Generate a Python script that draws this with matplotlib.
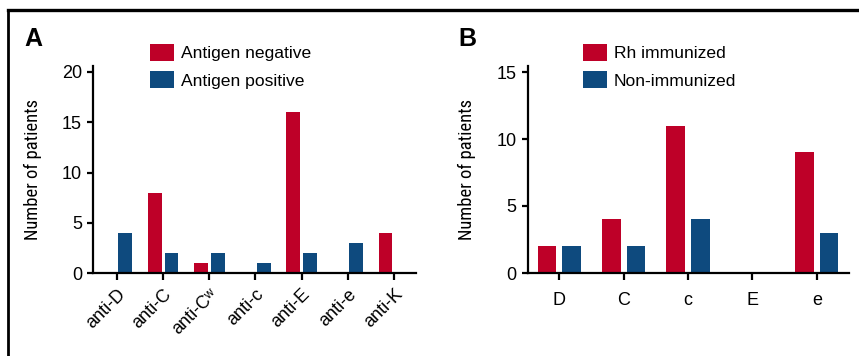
import matplotlib
matplotlib.use("Agg")
import matplotlib.pyplot as plt
import numpy as np
from matplotlib.lines import Line2D

# ---- data ----
a_categories = ["anti-D", "anti-C", "anti-C\u02b7", "anti-c", "anti-E", "anti-e", "anti-K"]
a_negative = [0, 8, 1, 0, 16, 0, 4]
a_positive = [4, 2, 2, 1, 2, 3, 0]
a_series = ["Antigen negative", "Antigen positive"]
a_yticks = [0, 5, 10, 15, 20]

b_categories = ["D", "C", "c", "E", "e"]
b_immunized = [2, 4, 11, 0, 9]
b_nonimmunized = [2, 2, 4, 0, 3]
b_series = ["Rh immunized", "Non-immunized"]
b_yticks = [0, 5, 10, 15]

RED = "#BE0028"
BLUE = "#0E4A7E"
FONT = ["Liberation Sans", "DejaVu Sans"]
NARROW = ["Liberation Sans Narrow", "Roboto Condensed", "Nimbus Sans Narrow",
          "Archivo Narrow", "Liberation Sans", "DejaVu Sans"]
plt.rcParams["font.family"] = FONT

W, H = 859, 356
fig = plt.figure(figsize=(W / 100, H / 100), dpi=100)


def fx(px):
    return px / W


def fy(py):
    return 1 - py / H


# border lines (top and left)
fig.add_artist(Line2D([fx(8), 1.0], [fy(10), fy(10)], color="black", lw=2.4))
fig.add_artist(Line2D([fx(8), fx(8)], [fy(10), 0], color="black", lw=2.0))

TICKSIZE = 13
LEGSIZE = 12.6


def style_axes(ax):
    for s in ["top", "right"]:
        ax.spines[s].set_visible(False)
    for s in ["left", "bottom"]:
        ax.spines[s].set_linewidth(1.6)
    ax.tick_params(axis="both", direction="out", width=1.6,
                   labelsize=TICKSIZE, colors="black")
    ax.tick_params(axis="y", length=4.5, pad=3.5)
    ax.tick_params(axis="x", length=5)


def add_legend(ax, xpx, ypx):
    ax.legend(loc="upper left", bbox_to_anchor=(fx(xpx), fy(ypx)),
              bbox_transform=fig.transFigure, frameon=False, borderpad=0,
              borderaxespad=0, handlelength=1.37, handleheight=1.09,
              handletextpad=0.4, labelspacing=0.57, fontsize=LEGSIZE)


# ---- Panel A ----
axA = fig.add_axes([fx(93), fy(273), fx(416) - fx(93), fy(66) - fy(273)])
x = np.arange(len(a_categories))
w = 0.3
off = 0.18
axA.bar(x - off, a_negative, width=w, color=RED, label=a_series[0])
axA.bar(x + off, a_positive, width=w, color=BLUE, label=a_series[1])
axA.set_xlim(-0.52, len(a_categories) - 1 + 0.48)
axA.set_ylim(0, 20 * 207 / 201)
axA.set_yticks(a_yticks)
axA.set_xticks(x)
axA.set_xticklabels(a_categories, rotation=45, ha="right", va="top",
                    rotation_mode="anchor")
style_axes(axA)
axA.tick_params(axis="x", pad=4)
add_legend(axA, 150, 44)

# ---- Panel B ----
axB = fig.add_axes([fx(527.7), fy(273), fx(849) - fx(527.7), fy(66) - fy(273)])
xb = np.arange(len(b_categories))
wb = 0.29
offb = 0.19
axB.bar(xb - offb, b_immunized, width=wb, color=RED, label=b_series[0])
axB.bar(xb + offb, b_nonimmunized, width=wb, color=BLUE, label=b_series[1])
axB.set_xlim(-0.49, len(b_categories) - 1 + 0.5)
axB.set_ylim(0, 15 * 207 / 201)
axB.set_yticks(b_yticks)
axB.set_xticks(xb)
axB.set_xticklabels(b_categories, fontsize=13.5)
style_axes(axB)
axB.tick_params(axis="x", pad=9)
add_legend(axB, 583, 44)

# y labels (condensed)
for xpx in (33, 467):
    fig.text(fx(xpx), fy(169), "Number of patients", rotation=90,
             ha="center", va="center", fontsize=13.3, family=NARROW)

# panel letters
fig.text(fx(24), fy(46), "A", fontsize=18, fontweight="bold", ha="left", va="baseline")
fig.text(fx(458), fy(46), "B", fontsize=18, fontweight="bold", ha="left", va="baseline")

fig.savefig("out.png", dpi=100)
